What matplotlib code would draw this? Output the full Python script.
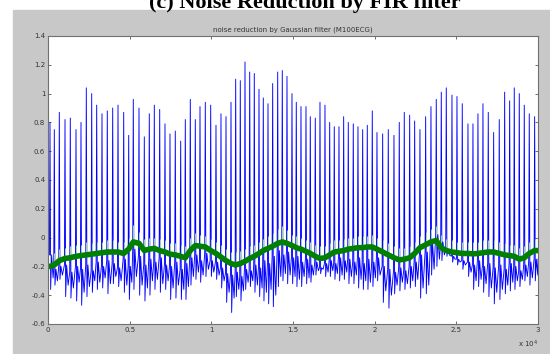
import numpy as np
import matplotlib
matplotlib.use("Agg")
import matplotlib.pyplot as plt
from matplotlib.patches import Rectangle

# R-peak sample positions and values
beat_x = [122, 386, 692, 1041, 1365, 1714, 2020, 2345, 2675, 2981,
          3306, 3630, 3961, 4286, 4635, 4941, 5222, 5571, 5896, 6202,
          6508, 6839, 7163, 7469, 7793, 8124, 8406, 8712, 9018, 9306,
          9630, 9961, 10285, 10591, 10898, 11204, 11491, 11773, 12061, 12349,
          12630, 12918, 13181, 13469, 13756, 14063, 14344, 14632, 14938, 15201,
          15489, 15795, 16058, 16364, 16652, 16958, 17246, 17527, 17815, 18102,
          18384, 18690, 18978, 19266, 19548, 19854, 20141, 20490, 20833, 21182,
          21506, 21812, 22143, 22449, 22773, 23122, 23447, 23771, 24078, 24384,
          24733, 25039, 25363, 25712, 26018, 26324, 26630, 26955, 27285, 27628,
          27959, 28265, 28547, 28853, 29159, 29465, 29795]

peak = [0.80, 0.75, 0.87, 0.82, 0.83, 0.75, 0.80, 1.04, 1.00, 0.92,
        0.86, 0.88, 0.90, 0.92, 0.87, 0.71, 0.96, 0.90, 0.70, 0.86,
        0.92, 0.89, 0.79, 0.72, 0.74, 0.67, 0.82, 0.96, 0.82, 0.91,
        0.94, 0.92, 0.78, 0.86, 0.84, 0.94, 1.10, 1.09, 1.22, 1.15,
        1.14, 1.03, 0.97, 0.93, 1.07, 1.15, 1.16, 1.12, 1.00, 0.94,
        0.91, 0.91, 0.84, 0.83, 0.94, 0.92, 0.80, 0.77, 0.77, 0.84,
        0.80, 0.79, 0.77, 0.75, 0.78, 0.88, 0.73, 0.72, 0.75, 0.71,
        0.80, 0.87, 0.85, 0.81, 0.75, 0.84, 0.91, 0.96, 1.01, 1.04,
        0.99, 0.98, 0.93, 0.79, 0.79, 0.86, 0.93, 0.87, 0.73, 0.82,
        1.01, 0.95, 1.04, 1.00, 0.92, 0.86, 0.84]

# noisy ECG between the peaks: deep dip after R, upper level, second trough
blue_dip = [-0.36, -0.33, -0.29, -0.41, -0.42, -0.44, -0.47, -0.41, -0.38, -0.36,
            -0.35, -0.39, -0.32, -0.34, -0.38, -0.43, -0.36, -0.40, -0.44, -0.40,
            -0.36, -0.38, -0.36, -0.43, -0.42, -0.43, -0.43, -0.33, -0.29, -0.31,
            -0.27, -0.27, -0.29, -0.35, -0.45, -0.52, -0.41, -0.44, -0.36, -0.34,
            -0.38, -0.41, -0.44, -0.46, -0.48, -0.34, -0.30, -0.32, -0.32, -0.34,
            -0.34, -0.32, -0.31, -0.26, -0.25, -0.27, -0.27, -0.29, -0.30, -0.29,
            -0.32, -0.32, -0.35, -0.36, -0.36, -0.34, -0.30, -0.45, -0.49, -0.39,
            -0.37, -0.36, -0.35, -0.34, -0.42, -0.39, -0.26, -0.20, -0.16, -0.13,
            -0.17, -0.19, -0.22, -0.27, -0.36, -0.34, -0.38, -0.41, -0.46, -0.43,
            -0.39, -0.37, -0.36, -0.34, -0.30, -0.33, -0.30]

blue_mid = [-0.12, -0.22, -0.20, -0.19, -0.24, -0.20, -0.22, -0.19, -0.23, -0.17,
            -0.20, -0.16, -0.18, -0.21, -0.15, -0.20, -0.08, -0.13, -0.19, -0.15,
            -0.17, -0.14, -0.19, -0.20, -0.17, -0.22, -0.18, -0.14, -0.12, -0.16,
            -0.11, -0.16, -0.17, -0.21, -0.25, -0.26, -0.24, -0.27, -0.22, -0.23,
            -0.19, -0.21, -0.16, -0.18, -0.13, -0.09, -0.12, -0.10, -0.14, -0.13,
            -0.17, -0.15, -0.19, -0.17, -0.21, -0.18, -0.16, -0.18, -0.14, -0.16,
            -0.15, -0.17, -0.14, -0.18, -0.15, -0.17, -0.14, -0.20, -0.22, -0.24,
            -0.21, -0.23, -0.20, -0.17, -0.12, -0.10, -0.04, 0.02, -0.03, -0.08,
            -0.13, -0.15, -0.16, -0.17, -0.19, -0.16, -0.20, -0.18, -0.21, -0.19,
            -0.22, -0.18, -0.20, -0.23, -0.19, -0.17, -0.15]

blue_dip2 = [-0.28, -0.30, -0.26, -0.33, -0.35, -0.31, -0.38, -0.34, -0.30, -0.31,
             -0.28, -0.32, -0.27, -0.30, -0.33, -0.31, -0.27, -0.33, -0.35, -0.30,
             -0.29, -0.32, -0.30, -0.35, -0.33, -0.36, -0.34, -0.27, -0.24, -0.26,
             -0.22, -0.24, -0.26, -0.30, -0.38, -0.42, -0.36, -0.37, -0.31, -0.30,
             -0.33, -0.35, -0.38, -0.36, -0.40, -0.27, -0.25, -0.26, -0.27, -0.29,
             -0.27, -0.28, -0.26, -0.23, -0.22, -0.24, -0.23, -0.25, -0.26, -0.24,
             -0.27, -0.26, -0.29, -0.30, -0.31, -0.28, -0.26, -0.37, -0.40, -0.33,
             -0.31, -0.32, -0.30, -0.29, -0.35, -0.33, -0.22, -0.15, -0.12, -0.12,
             -0.15, -0.17, -0.19, -0.24, -0.30, -0.29, -0.32, -0.35, -0.38, -0.36,
             -0.33, -0.31, -0.30, -0.29, -0.27, -0.28, -0.26]

# Gaussian filtered signal: level at each beat and its small residual peak
green = [-0.20, -0.19, -0.16, -0.145, -0.14, -0.13, -0.125, -0.12, -0.115, -0.11,
         -0.105, -0.10, -0.10, -0.10, -0.11, -0.08, -0.03, -0.04, -0.09, -0.08,
         -0.075, -0.09, -0.10, -0.115, -0.12, -0.13, -0.14, -0.09, -0.055, -0.06,
         -0.065, -0.09, -0.11, -0.135, -0.16, -0.18, -0.19, -0.18, -0.165, -0.145,
         -0.13, -0.11, -0.09, -0.075, -0.06, -0.04, -0.03, -0.04, -0.055, -0.07,
         -0.08, -0.095, -0.11, -0.13, -0.145, -0.14, -0.12, -0.10, -0.095, -0.09,
         -0.08, -0.075, -0.07, -0.07, -0.065, -0.065, -0.08, -0.10, -0.12, -0.14,
         -0.155, -0.15, -0.14, -0.11, -0.07, -0.05, -0.03, -0.02, -0.07, -0.09,
         -0.10, -0.105, -0.11, -0.11, -0.113, -0.11, -0.105, -0.10, -0.10, -0.11,
         -0.12, -0.125, -0.13, -0.15, -0.14, -0.11, -0.09]

green_peak = [-0.12, -0.11, -0.08, -0.07, -0.06, -0.05, -0.05, -0.03, -0.04, -0.03,
              -0.03, -0.02, -0.02, -0.03, -0.03, 0.00, 0.09, 0.04, -0.01, 0.00,
              0.00, -0.01, -0.02, -0.04, -0.04, -0.05, -0.06, 0.00, 0.03, 0.02,
              0.01, -0.01, -0.03, -0.05, -0.08, -0.10, -0.10, -0.09, -0.08, -0.06,
              -0.05, -0.03, -0.01, 0.01, 0.03, 0.06, 0.08, 0.05, 0.02, 0.01,
              0.00, -0.02, -0.03, -0.05, -0.06, -0.06, -0.04, -0.02, -0.02, -0.01,
              0.00, 0.00, 0.01, 0.01, 0.01, 0.02, 0.00, -0.02, -0.04, -0.06,
              -0.07, -0.07, -0.06, -0.03, 0.01, 0.04, 0.06, 0.08, 0.02, -0.01,
              -0.02, -0.03, -0.03, -0.03, -0.03, -0.03, -0.02, -0.02, -0.02, -0.03,
              -0.04, -0.05, -0.05, -0.07, -0.06, -0.03, -0.01]

x_ticks = [0, 5000, 10000, 15000, 20000, 25000, 30000]
x_labels = ['0', '0.5', '1', '1.5', '2', '2.5', '3']
y_ticks = [-0.6, -0.4, -0.2, 0, 0.2, 0.4, 0.6, 0.8, 1.0, 1.2, 1.4]
y_labels = ['-0.6', '-0.4', '-0.2', '0', '0.2', '0.4', '0.6', '0.8', '1', '1.2', '1.4']

# build the blue trace beat by beat
bx, by = [0], [blue_mid[0]]
for i, x in enumerate(beat_x):
    bx += [x - 35, x, x + 40, x + 100, x + 190]
    by += [blue_mid[i], peak[i], blue_dip[i], blue_mid[i], blue_dip2[i]]
bx.append(30000)
by.append(blue_mid[-1])

gx = [0] + beat_x + [30000]
gy = [green[0]] + green + [green[-1]]

fig = plt.figure(figsize=(5.5, 3.54), dpi=100)
fig.patch.set_facecolor('white')
fig.add_artist(Rectangle((13 / 550, 0), 1 - 13 / 550, 1 - 10 / 354,
                         transform=fig.transFigure, color='#c8c8c8', zorder=-10))
# heading is cropped at the top edge, as in the source screenshot
fig.text(0.555, 1 - 8 / 354, '(c) Noise Reduction by FIR filter', ha='center',
         va='baseline', fontsize=16, fontweight='bold', family='Liberation Serif')

ax = fig.add_axes([48 / 550, 30 / 354, 490 / 550, 288 / 354])
ax.set_facecolor('white')

ax.plot(bx, by, color='#0000ff', lw=0.65)
ax.vlines(beat_x, green, green_peak, color='#9fd89f', lw=0.7)
ax.plot(gx, gy, color='#008000', lw=4, solid_joinstyle='round')

ax.set_xlim(0, 30000)
ax.set_ylim(-0.6, 1.4)
ax.set_xticks(x_ticks)
ax.set_xticklabels(x_labels)
ax.set_yticks(y_ticks)
ax.set_yticklabels(y_labels)
ax.tick_params(direction='in', top=True, right=True, length=2.5, width=0.6,
               color='#555555', labelcolor='#333333', labelsize=5, pad=2)
for s in ax.spines.values():
    s.set_color('#707070')
    s.set_linewidth(0.8)
ax.set_title('noise reduction by Gaussian filter (M100ECG)', fontsize=5,
             color='#333333', pad=3)
ax.text(1.0, -0.07, r'x 10$^4$', transform=ax.transAxes, ha='right', va='center',
        fontsize=5, color='#333333')

fig.savefig('out.png', dpi=100)
